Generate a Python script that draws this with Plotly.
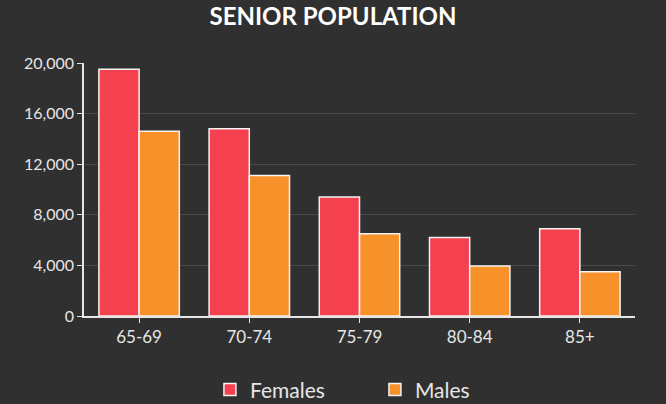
import plotly.graph_objs as go

age_groups = ["65-69", "70-74", "75-79", "80-84", "85+"]
females = [19500, 14800, 9400, 6200, 6900]
males = [14600, 11100, 6500, 3950, 3500]

fig = go.Figure()

fig.add_bar(
    x=age_groups, y=females, name="Females",
    marker=dict(color="#f4404f", line=dict(color="#f2f2f2", width=1.5)),
)
fig.add_bar(
    x=age_groups, y=males, name="Males",
    marker=dict(color="#f7922b", line=dict(color="#f2f2f2", width=1.5)),
)

fig.update_layout(
    width=666,
    height=404,
    barmode="group",
    bargap=0.27,
    bargroupgap=0,
    plot_bgcolor="#303030",
    paper_bgcolor="#303030",
    margin=dict(autoexpand=False, l=84, r=31, t=63, b=88),
    font=dict(family="Lato", color="#e6e6e6", size=17),
    title={
        "text": "<b>SENIOR POPULATION</b>",
        "font": {"family": "Lato", "size": 24, "color": "white"},
        "x": 0.5,
        "y": 0.958,
        "xanchor": "center",
        "yanchor": "middle",
    },
    xaxis=dict(
        showgrid=False, showline=True, linecolor="#e6e6e6", linewidth=1.5,
        ticks="outside", ticklen=5, tickcolor="#e6e6e6",
        tickfont=dict(size=17, color="#e6e6e6"),
    ),
    yaxis=dict(
        range=[0, 20000], tickvals=[0, 4000, 8000, 12000, 16000, 20000],
        tickformat=",", showline=True, linecolor="#e6e6e6", linewidth=1.5,
        ticks="outside", ticklen=5, tickcolor="#e6e6e6",
        showgrid=True, gridcolor="rgba(255,255,255,0.12)", gridwidth=1,
        zeroline=False, tickfont=dict(size=16, color="#e6e6e6"),
    ),
    legend=dict(
        orientation="h", x=0.528, xanchor="center", y=-0.292, yanchor="middle",
        font=dict(size=21, color="#e6e6e6"),
        entrywidth=120, traceorder="normal",
    ),
)

fig.write_html("out.html", config={"displayModeBar": False},
               post_script="document.body.style.margin='0';")
